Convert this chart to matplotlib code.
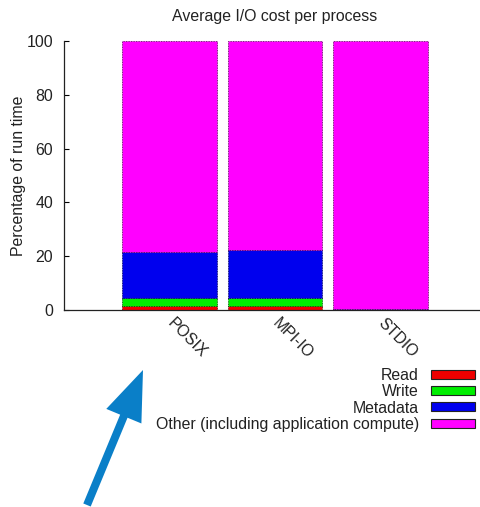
import matplotlib
matplotlib.use("Agg")
import matplotlib.pyplot as plt
import matplotlib.transforms as mtransforms
from matplotlib.patches import FancyArrow, Patch
import numpy as np

plt.rcParams['font.family'] = ['Liberation Sans', 'DejaVu Sans']

# Share of run time spent in each activity, per I/O interface (percent)
interfaces = ["POSIX", "MPI-IO", "STDIO"]
read_pct = [1.6, 1.6, 0.0]
write_pct = [3.0, 3.0, 0.0]
metadata_pct = [16.8, 17.8, 0.4]
other_pct = [78.6, 77.6, 99.6]

series_names = ["Read", "Write", "Metadata", "Other (including application compute)"]
series_colors = ["#ee0000", "#00ee00", "#0000ee", "#ff00ff"]
edge_colors = ["#550000", "#004400", "#000055", "#550055"]
y_ticks = [0, 20, 40, 60, 80, 100]

FS = 11.4
W, H = 481, 507
fig = plt.figure(figsize=(W / 100, H / 100), dpi=100)
ax = fig.add_axes([64 / W, 1 - 310 / H, (W - 64) / W, (310 - 41) / H])

x = np.arange(1, len(interfaces) + 1)
bottom = np.zeros(len(interfaces))
for vals, col, ec, name in zip([read_pct, write_pct, metadata_pct, other_pct],
                               series_colors, edge_colors, series_names):
    v = np.array(vals)
    ax.bar(x, v, width=0.9, bottom=bottom, color=col, edgecolor=ec,
           linewidth=0.6, linestyle=(0, (1, 1)), label=name)
    bottom += v

ax.set_xlim(0, (W - 64) / 105.5)
ax.set_ylim(0, 100)
ax.set_yticks(y_ticks)
ax.set_xticks(x)
ax.set_xticklabels(interfaces, rotation=-45, ha='left', va='center',
                   rotation_mode='anchor', fontsize=FS, color='#222222')
ax.tick_params(axis='x', length=0, pad=8)
ax.tick_params(axis='y', direction='in', length=3.6, width=0.8, pad=8,
               labelsize=FS, labelcolor='#222222')
for s in ['top', 'right']:
    ax.spines[s].set_visible(False)
for s in ['left', 'bottom']:
    ax.spines[s].set_linewidth(0.9)
    ax.spines[s].set_color('#222222')

fig.text(275 / W, 1 - 16 / H, "Average I/O cost per process", ha='center',
         va='center', fontsize=FS, color='#222222')
fig.text(18.5 / W, 1 - 175.5 / H, "Percentage of run time", ha='center',
         va='center', rotation=90, fontsize=FS, color='#222222')

handles = [Patch(facecolor=c, edgecolor='#222222', linewidth=0.8)
           for c in series_colors]
leg = fig.legend(handles, series_names, loc='upper right',
                 bbox_to_anchor=(475 / W, 1 - 368 / H), frameon=False,
                 markerfirst=False, fontsize=FS, handlelength=2.75,
                 handleheight=0.5, labelspacing=0.08, handletextpad=0.8,
                 borderaxespad=0, borderpad=0)
for t in leg.get_texts():
    t.set_color('#222222')

# Pointer arrow drawn in figure pixel space
arrow = FancyArrow(87, H - 505, 56, 135, width=8, head_width=38,
                   head_length=50, length_includes_head=True,
                   color='#0a7fc8', linewidth=0)
arrow.set_transform(mtransforms.IdentityTransform())
fig.add_artist(arrow)

fig.savefig("out.png", dpi=100)
